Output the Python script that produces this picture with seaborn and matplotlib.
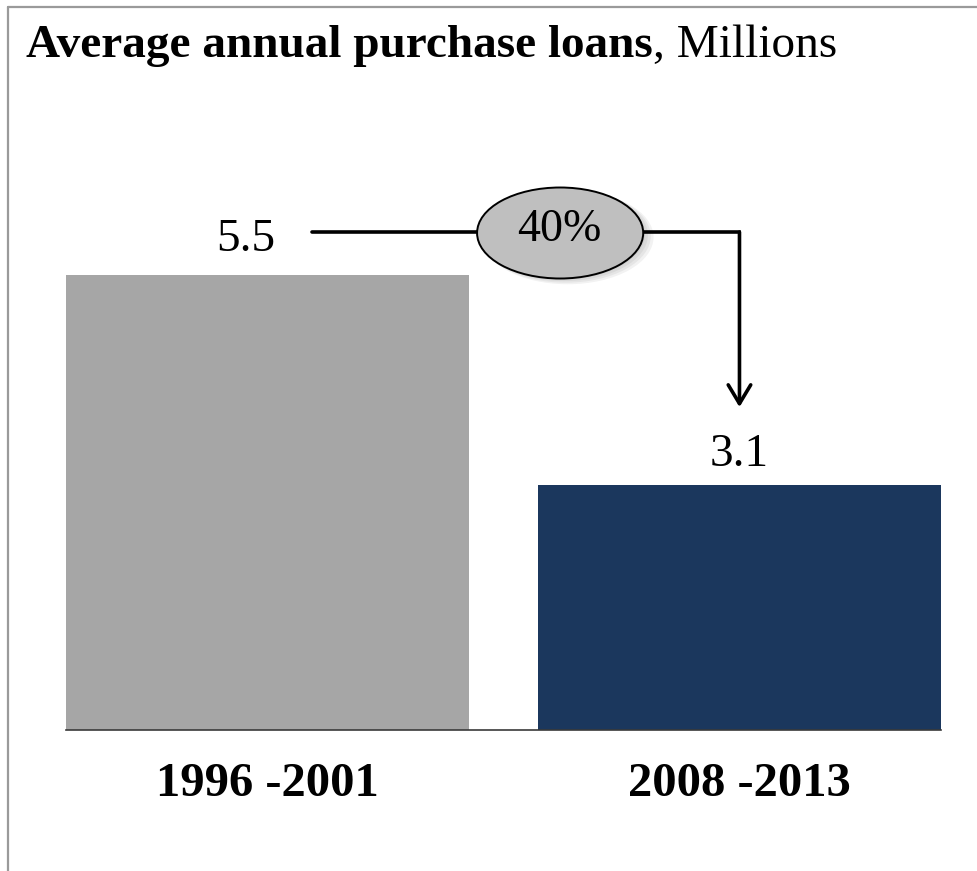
import matplotlib
matplotlib.use("Agg")
import matplotlib.pyplot as plt
from matplotlib.patches import Ellipse
from matplotlib.lines import Line2D
import seaborn as sns
import pandas as pd

# Data
periods = ["1996 -2001", "2008 -2013"]
loans = [5.5, 3.1]
change_label = "40%"
bar_colors = ["#A6A6A6", "#1B375D"]

sns.set_theme(style="white")
plt.rcParams["font.family"] = ["Liberation Serif", "DejaVu Serif"]
plt.rcParams["text.color"] = "black"
plt.rcParams["xtick.color"] = "black"

W, H = 978, 871
fig = plt.figure(figsize=(W / 100, H / 100), dpi=100)

# axes placement in pixels: x 66..941, y 100..730
ax = fig.add_axes([66 / W, 1 - 730 / H, 875 / W, 630 / H])

df = pd.DataFrame({"period": periods, "loans": loans})
sns.barplot(data=df, x="period", y="loans", hue="period", palette=bar_colors,
            width=0.854, saturation=1, legend=False, ax=ax, linewidth=0)

ax.set_xlim(-0.427, 1.427)
ax.set_ylim(0.3, 7.5)
for s in ["left", "right", "top"]:
    ax.spines[s].set_visible(False)
ax.spines["bottom"].set_color("#3a3a3a")
ax.spines["bottom"].set_linewidth(1.2)
ax.set_yticks([])
ax.set_xlabel("")
ax.set_ylabel("")
ax.tick_params(axis="x", length=0, pad=23)
for lbl in ax.get_xticklabels():
    lbl.set_fontsize(35)
    lbl.set_fontweight("bold")
    lbl.set_color("black")

# value labels
ax.text(-0.047, 5.774, f"{loans[0]:.1f}", fontsize=34, ha="center", va="baseline")
ax.text(1.0, loans[1] + 0.217, f"{loans[1]:.1f}", fontsize=34, ha="center", va="baseline")

# connector: first bar label -> bubble -> arrow down to second bar
line_y = 5.99
lw = 2.6
ax.plot([0.094, 0.45], [line_y, line_y], color="black", lw=lw, clip_on=False)
ax.plot([0.79, 1.0], [line_y, line_y], color="black", lw=lw,
        solid_capstyle="projecting", clip_on=False)
ax.annotate("", xy=(1.0, 3.99), xytext=(1.0, line_y),
            arrowprops=dict(arrowstyle="->,head_length=0.45,head_width=0.27",
                            lw=lw, color="black", mutation_scale=30,
                            shrinkA=0, shrinkB=0), annotation_clip=False)

# bubble with soft shadow
cx, cy, ew, eh = 0.62, 5.98, 0.352, 1.04
for i in range(4):
    d = 0.004 * (i + 1)
    ax.add_patch(Ellipse((cx + d, cy - d * 3), ew + 0.004 * i, eh + 0.012 * i,
                         facecolor="black", edgecolor="none", alpha=0.05,
                         clip_on=False, zorder=3))
ax.add_patch(Ellipse((cx, cy), ew, eh, facecolor="#BFBFBF", edgecolor="black",
                     lw=1.4, clip_on=False, zorder=4))
ax.text(cx - 0.002, 5.889, change_label, fontsize=33, ha="center", va="baseline", zorder=5)

# title
t1 = fig.text(26 / W, 1 - 57 / H, "Average annual purchase loans", fontsize=34,
              fontweight="bold", ha="left", va="baseline")
ax.annotate(", Millions", xy=(1, 0), xycoords=t1, fontsize=34,
            ha="left", va="bottom", annotation_clip=False)

# outer frame
fc = "#9a9a9a"
fig.add_artist(Line2D([8 / W, 8 / W], [0, 1 - 7 / H], color=fc, lw=1.6,
                      transform=fig.transFigure))
fig.add_artist(Line2D([8 / W, 1], [1 - 7 / H, 1 - 7 / H], color=fc, lw=1.6,
                      transform=fig.transFigure))

fig.savefig("out.png", dpi=100, facecolor="white")
